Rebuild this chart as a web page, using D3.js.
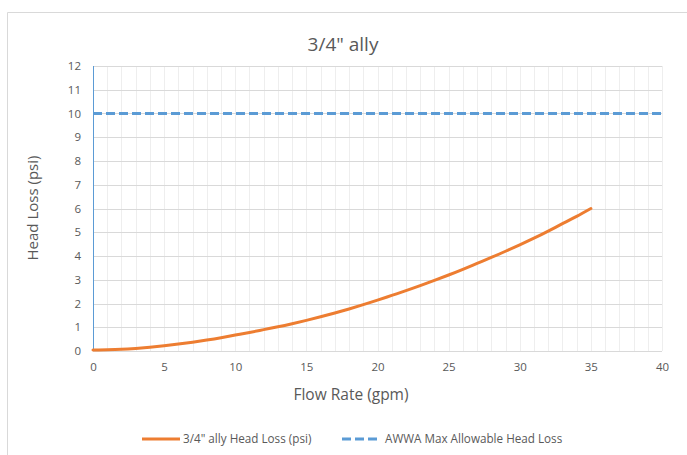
<!DOCTYPE html>
<html><head><meta charset="utf-8">
<script src="https://cdn.jsdelivr.net/npm/d3@7"></script>
<style>body{margin:0;background:#fff;} text{font-family:"Open Sans","Noto Sans",sans-serif;}</style>
</head><body>
<svg id="chart" width="687" height="455"></svg>
<script>
const flowRates = [0,1,2,3,4,5,6,7,8,9,10,11,12,13,14,15,16,17,18,19,20,21,22,23,24,25,26,27,28,29,30,31,32,33,34,35];
const headLoss = [0.04,0.05,0.07,0.11,0.16,0.22,0.29,0.37,0.46,0.56,0.67,0.78,0.9,1.02,1.15,1.29,1.44,1.6,1.77,1.95,2.14,2.34,2.54,2.75,2.97,3.2,3.44,3.69,3.94,4.2,4.47,4.75,5.05,5.36,5.67,6.0];
const awwaFlow = [0,40];
const awwaLimit = [10,10];
const xTicks = [0,5,10,15,20,25,30,35,40];
const yTicks = [0,1,2,3,4,5,6,7,8,9,10,11,12];
const title = '3/4" ally';
const seriesNames = ['3/4" ally Head Loss (psi)','AWWA Max Allowable Head Loss'];

const svg = d3.select("#chart");
const x = d3.scaleLinear().domain([0,40]).range([93,662]);
const y = d3.scaleLinear().domain([0,12]).range([351,66]);

// frame
svg.append("path").attr("d","M7.5,455 V12.5 H687").attr("fill","none").attr("stroke","#d9d9d9").attr("stroke-width",1);

// minor vertical grid
svg.append("g").selectAll("line").data(d3.range(1,41)).join("line")
  .attr("x1",d=>Math.round(x(d))+0.5).attr("x2",d=>Math.round(x(d))+0.5)
  .attr("y1",y(12)).attr("y2",y(0)).attr("stroke","#eeeeee").attr("stroke-width",1);
// horizontal grid
svg.append("g").selectAll("line").data(yTicks.slice(1)).join("line")
  .attr("x1",x(0)).attr("x2",x(40))
  .attr("y1",d=>Math.round(y(d))+0.5).attr("y2",d=>Math.round(y(d))+0.5)
  .attr("stroke","#d9d9d9").attr("stroke-width",1);
// x axis line
svg.append("line").attr("x1",x(0)).attr("x2",x(40)).attr("y1",Math.round(y(0))+0.5).attr("y2",Math.round(y(0))+0.5)
  .attr("stroke","#d9d9d9");

// axes labels via d3 axes
const xAxis = svg.append("g").attr("transform",`translate(0,${y(0)})`)
  .call(d3.axisBottom(x).tickValues(xTicks).tickSize(0).tickPadding(12));
xAxis.select(".domain").remove();
xAxis.selectAll("text").attr("fill","#595959").style("font-size","11.5px");

const yAxis = svg.append("g").attr("transform",`translate(${x(0)},0)`)
  .call(d3.axisLeft(y).tickValues(yTicks).tickSize(0).tickPadding(12));
yAxis.select(".domain").remove();
yAxis.selectAll("text").attr("fill","#595959").style("font-size","11.5px");

// y axis line (blue)
svg.append("line").attr("x1",Math.round(x(0))+0.5).attr("x2",Math.round(x(0))+0.5).attr("y1",y(12)).attr("y2",y(0))
  .attr("stroke","#5b9bd5").attr("stroke-width",1);

// AWWA dashed line
const line = d3.line().x(d=>x(d[0])).y(d=>y(d[1]));
svg.append("path").datum(awwaFlow.map((f,i)=>[f,awwaLimit[i]]))
  .attr("d",line).attr("fill","none").attr("stroke","#5b9bd5").attr("stroke-width",3)
  .attr("stroke-dasharray","9,4");

// head loss curve
svg.append("path").datum(flowRates.map((f,i)=>[f,headLoss[i]]))
  .attr("d",line.curve(d3.curveNatural)).attr("fill","none").attr("stroke","#ed7d31").attr("stroke-width",3)
  .attr("stroke-linecap","round");

// title
svg.append("text").attr("x",343).attr("y",51).attr("text-anchor","middle")
  .attr("fill","#595959").style("font-size","19px").text(title);
// axis titles
svg.append("text").attr("x",351).attr("y",400).attr("text-anchor","middle")
  .attr("fill","#595959").style("font-size","15.5px").text("Flow Rate (gpm)");
svg.append("text").attr("transform",`translate(38,208) rotate(-90)`).attr("text-anchor","middle")
  .attr("fill","#595959").style("font-size","15px").text("Head Loss (psi)");

// legend
const lg = svg.append("g");
lg.append("line").attr("x1",142).attr("x2",180).attr("y1",439).attr("y2",439).attr("stroke","#ed7d31").attr("stroke-width",3);
lg.append("text").attr("x",183).attr("y",443).attr("fill","#595959").style("font-size","11.7px").text(seriesNames[0]);
lg.append("line").attr("x1",342).attr("x2",379).attr("y1",439).attr("y2",439).attr("stroke","#5b9bd5").attr("stroke-width",3).attr("stroke-dasharray","9,4");
lg.append("text").attr("x",385).attr("y",443).attr("fill","#595959").style("font-size","11.7px").text(seriesNames[1]);
</script>
</body></html>
